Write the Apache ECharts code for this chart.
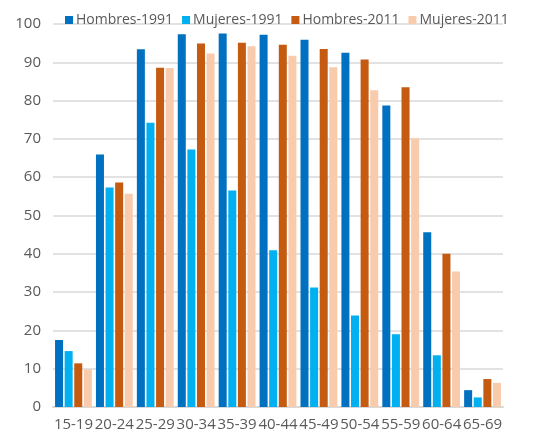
<!DOCTYPE html>
<html>
<head>
<meta charset="utf-8">
<script src="https://cdn.jsdelivr.net/npm/echarts@6/dist/echarts.min.js"></script>
<style>
  html, body { margin: 0; padding: 0; background: #fff; }
  #chart { width: 542px; height: 434px; }
</style>
</head>
<body>
<div id="chart"></div>
<script>
// grupos de edad
const ages = ['15-19', '20-24', '25-29', '30-34', '35-39', '40-44', '45-49', '50-54', '55-59', '60-64', '65-69']
const hombres1991 = [17.5, 65.9, 93.4, 97.3, 97.5, 97.2, 95.9, 92.5, 78.7, 45.6, 4.4]
const mujeres1991 = [14.6, 57.3, 74.2, 67.2, 56.5, 40.9, 31.2, 23.9, 19.0, 13.5, 2.5]
const hombres2011 = [11.4, 58.6, 88.6, 94.9, 95.1, 94.6, 93.5, 90.7, 83.5, 40.0, 7.3]
const mujeres2011 = [9.8, 55.7, 88.5, 92.3, 94.2, 91.7, 88.7, 82.7, 70.2, 35.4, 6.3]

const font = 'Open Sans'
const gray = '#595959'

function bar(name, data, color) {
  return {
    name: name,
    type: 'bar',
    data: data,
    barGap: '20%',
    barCategoryGap: '10%',
    itemStyle: { color: color }
  }
}

const myChart = echarts.init(document.getElementById('chart'))
myChart.setOption({
  animation: false,
  textStyle: { fontFamily: font },
  legend: {
    left: 60,
    right: 0,
    top: 8,
    icon: 'rect',
    itemWidth: 8,
    itemHeight: 8,
    itemGap: 9,
    textStyle: { fontSize: 14, color: gray, fontFamily: font, padding: [0, 0, 0, -2] }
  },
  grid: { left: 53, right: 39, top: 24, bottom: 27 },
  xAxis: {
    type: 'category',
    data: ages,
    axisLine: { lineStyle: { color: '#d9d9d9', width: 2 } },
    axisTick: { show: false },
    axisLabel: { fontSize: 15, color: gray, margin: 10, interval: 0 }
  },
  yAxis: {
    type: 'value',
    min: 0,
    max: 100,
    interval: 10,
    axisLine: { show: false },
    axisTick: { show: false },
    axisLabel: { fontSize: 15, color: gray, margin: 12 },
    splitLine: { lineStyle: { color: '#d9d9d9', width: 1.5 } }
  },
  series: [
    bar('Hombres-1991', hombres1991, '#0070C0'),
    bar('Mujeres-1991', mujeres1991, '#00B0F0'),
    bar('Hombres-2011', hombres2011, '#C55A11'),
    bar('Mujeres-2011', mujeres2011, '#F8CBAD')
  ]
})
</script>
</body>
</html>
